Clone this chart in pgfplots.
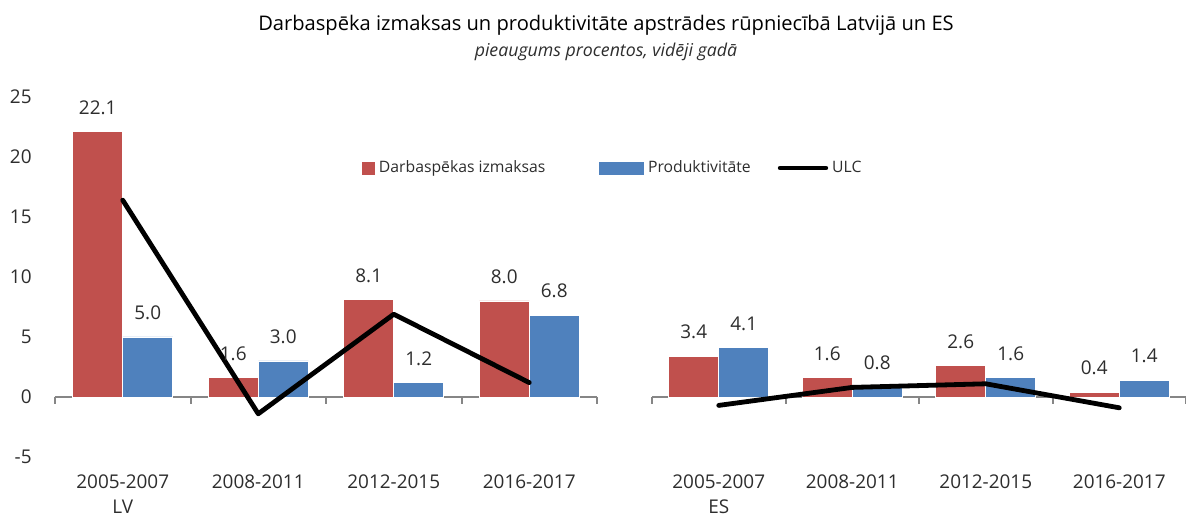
\documentclass[border=0pt]{standalone}
\usepackage{fontspec}
\setmainfont{Open Sans}
\usepackage{pgfplots}
\pgfplotsset{compat=1.18}
\definecolor{lvred}{RGB}{192,80,77}
\definecolor{lvblue}{RGB}{79,129,189}
\definecolor{axgray}{RGB}{134,134,134}
\definecolor{txtgray}{RGB}{45,45,45}
\newcommand{\fs}[2]{\fontsize{#1}{#2}\selectfont}
\pgfplotsset{
  panel/.style={
    scale only axis, width=#1, height=180bp,
    xmin=-0.5, xmax=3.5, ymin=-5, ymax=25,
    axis line style={draw=none}, tick style={draw=none},
    clip=false,
    xtick={0,1,2,3},
    ytick={-5,0,5,10,15,20,25},
    /pgf/number format/assume math mode=true,
    xticklabel style={font=\fs{9.5}{12.5}, align=center, anchor=north, inner sep=0pt, yshift=-8.5bp, text=txtgray},
    yticklabel style={font=\fs{9.5}{11}, anchor=east, inner sep=0pt, xshift=-11.5bp, text=txtgray},
  },
  redbar/.style={ybar, bar width=25bp, bar shift=-12.5bp, fill=lvred, draw=white, line width=0.3bp,
    nodes near coords={\pgfmathprintnumber[fixed,fixed zerofill,precision=1,assume math mode=true]{\pgfplotspointmeta}},
    every node near coord/.append style={font=\fs{9.5}{11}, text=txtgray, anchor=south, inner sep=0pt, yshift=8.5bp, xshift=-12.5bp},
    legend image code/.code={\fill[lvred] (0bp,-3bp) rectangle (6bp,3bp);}},
  bluebar/.style={ybar, bar width=25bp, bar shift=12.5bp, fill=lvblue, draw=white, line width=0.3bp,
    nodes near coords={\pgfmathprintnumber[fixed,fixed zerofill,precision=1,assume math mode=true]{\pgfplotspointmeta}},
    every node near coord/.append style={font=\fs{9.5}{11}, text=txtgray, anchor=south, inner sep=0pt, yshift=8.5bp, xshift=12.5bp},
    legend image code/.code={\path (-13.5bp,0bp); \fill[lvblue] (0bp,-3bp) rectangle (22bp,3bp);}},
  ulc/.style={sharp plot, black, line width=2.4bp, line cap=round, line join=round, no markers,
    legend image code/.code={\draw[black, line width=2.2bp, line cap=round] (0bp,0bp) -- (23bp,0bp);}},
}
\begin{document}
\begin{tikzpicture}
\useasboundingbox (0,0) rectangle (593bp,258bp);
\node[font=\fs{10.1}{12}, text=black] at (303bp,245.5bp) {Darbaspēka izmaksas un produktivitāte apstrādes rūpniecībā Latvijā un ES};
\node[font=\fs{8.9}{11}\itshape, text=txtgray] at (303bp,232bp) {pieaugums procentos, vidēji gadā};

\begin{axis}[panel=271bp, at={(27.5bp,29.5bp)}, anchor=south west,
  xticklabels={{2005-2007\\LV},2008-2011,2012-2015,2016-2017},
  legend columns=3, legend cell align=left,
  legend style={at={(axis description cs:0.5664,0.8028)}, anchor=west, draw=none, fill=none,
    inner sep=0pt, font=\fs{7.9}{9}, text=txtgray, nodes={inner sep=0pt},
    /tikz/every even column/.append style={column sep=13.5bp},
    /tikz/every odd column/.append style={column sep=2bp}},
]
\draw[axgray, line width=1bp] (axis cs:-0.5,0) -- (axis cs:3.5,0);
\pgfplotsinvokeforeach{-0.5,0.5,1.5,2.5,3.5}{\draw[axgray, line width=1bp] (axis cs:#1,0) -- ([yshift=-3.5bp]axis cs:#1,0);}
\addplot[redbar] coordinates {(0,22.1) (1,1.6) (2,8.1) (3,8.0)};
\addlegendentry{Darbaspēkas izmaksas}
\addplot[bluebar] coordinates {(0,5.0) (1,3.0) (2,1.2) (3,6.8)};
\addlegendentry{Produktivitāte}
\addplot[ulc] coordinates {(0,16.4) (1,-1.4) (2,6.9) (3,1.2)};
\addlegendentry{ULC}
\end{axis}

\begin{axis}[panel=267bp, at={(326bp,29.5bp)}, anchor=south west,
  xticklabels={{2005-2007\\ES},2008-2011,2012-2015,2016-2017},
  yticklabels=\empty,
]
\draw[axgray, line width=1bp] (axis cs:-0.5,0) -- (axis cs:3.5,0);
\pgfplotsinvokeforeach{-0.5,0.5,1.5,2.5,3.5}{\draw[axgray, line width=1bp] (axis cs:#1,0) -- ([yshift=-3.5bp]axis cs:#1,0);}
\addplot[redbar] coordinates {(0,3.4) (1,1.6) (2,2.6) (3,0.4)};
\addplot[bluebar] coordinates {(0,4.1) (1,0.8) (2,1.6) (3,1.4)};
\addplot[ulc] coordinates {(0,-0.7) (1,0.8) (2,1.1) (3,-0.9)};
\end{axis}
\end{tikzpicture}
\end{document}
